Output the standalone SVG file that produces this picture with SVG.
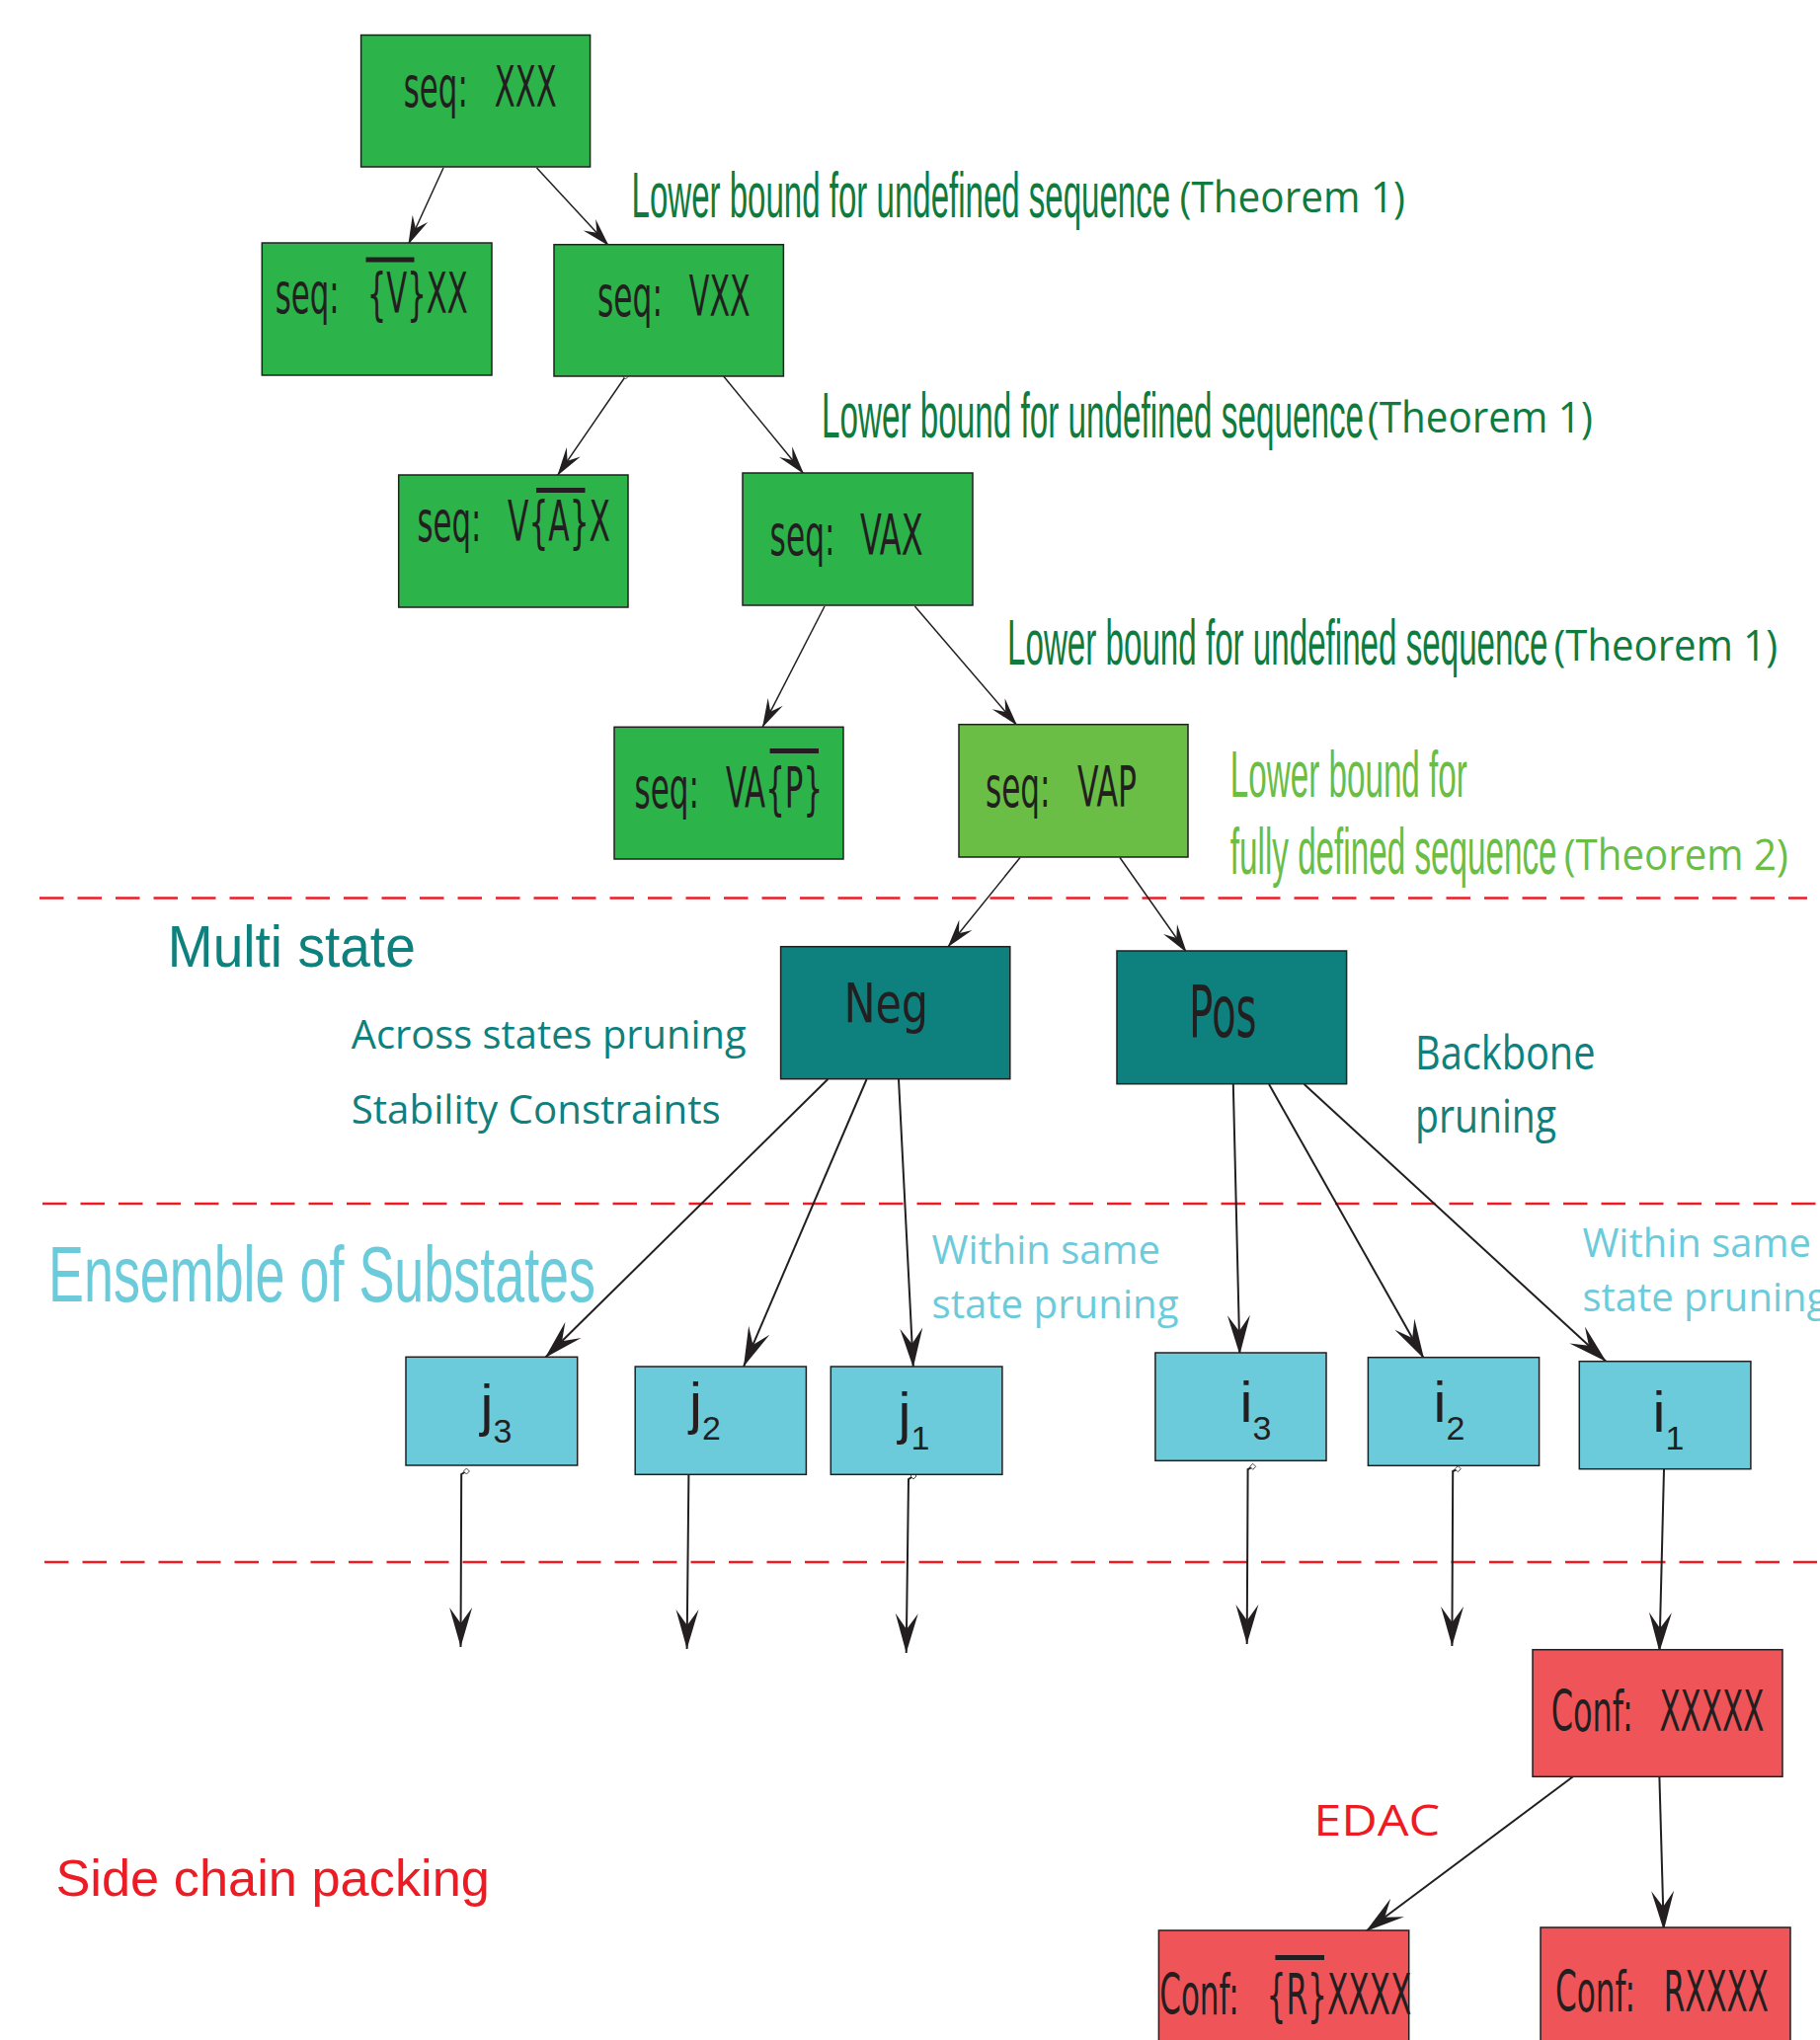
<svg xmlns="http://www.w3.org/2000/svg" width="1843" height="2066" viewBox="0 0 1843 2066">
<style>
.box{stroke:#231f20;stroke-width:1.5}
.g{fill:#2cb34a}.lg{fill:#6abd45}.tl{fill:#0e807d}.cy{fill:#6ccbdb}.rd{fill:#ef5458}
.dv{font-family:"DejaVu Sans","Liberation Sans",sans-serif;fill:#231f20}
.nar{font-family:"Liberation Sans","DejaVu Sans",sans-serif}
.hum{font-family:"Open Sans","Noto Sans",sans-serif}
.tdg{fill:#0f7b3f}.tlg{fill:#6abd45}.ttl{fill:#0e807d}.tcy{fill:#6ccbdb}.trd{fill:#ed1c24}
.ov{fill:#231f20}
.sub{font-family:"Liberation Sans","DejaVu Sans",sans-serif;fill:#231f20}
.c1{fill:none;stroke:#231f20;stroke-width:1.5;marker-end:url(#ahS)}
.c2{fill:none;stroke:#231f20;stroke-width:2;marker-end:url(#ahL)}
.dash{stroke:#ed1c24;stroke-width:2.5;stroke-dasharray:24.5 14;fill:none}
</style>
<defs>
<marker id="ahS" markerUnits="userSpaceOnUse" viewBox="-30 -10 32 20" refX="0" refY="0" markerWidth="32" markerHeight="20" orient="auto">
<path d="M0,0 L-29,-8.5 L-18,0 L-29,8.5 Z" fill="#231f20"/>
</marker>
<marker id="ahL" markerUnits="userSpaceOnUse" viewBox="-42 -13 44 26" refX="0" refY="0" markerWidth="44" markerHeight="26" orient="auto">
<path d="M0,0 L-40,-11.5 L-24,0 L-40,11.5 Z" fill="#231f20"/>
</marker>
<marker id="dm" markerUnits="userSpaceOnUse" viewBox="-4 -4 8 8" refX="0" refY="0" markerWidth="8" markerHeight="8" orient="0">
<path d="M0,-3 L3,0 L0,3 L-3,0 Z" fill="#fff" stroke="#231f20" stroke-width="0.8"/>
</marker>
</defs>
<rect width="1843" height="2066" fill="#fff"/>

<g id="dividers">
<line class="dash" x1="40" y1="909.5" x2="1830" y2="909.5"/>
<line class="dash" x1="43" y1="1219" x2="1840" y2="1219"/>
<line class="dash" x1="45" y1="1582" x2="1840" y2="1582"/>
</g>

<g id="labels">
<text class="nar tdg" transform="translate(639.6 220) scale(1 1.98)" font-size="33.1" textLength="545.5" lengthAdjust="spacingAndGlyphs">Lower bound for undefined sequence</text>
<text class="hum tdg" transform="translate(1194.5 215) scale(1 1.1)" font-size="40.4" textLength="228.5" lengthAdjust="spacingAndGlyphs">(Theorem 1)</text>
<text class="nar tdg" transform="translate(832 443) scale(1 1.98)" font-size="33.1" textLength="549" lengthAdjust="spacingAndGlyphs">Lower bound for undefined sequence</text>
<text class="hum tdg" transform="translate(1384.8 438) scale(1 1.1)" font-size="40.4" textLength="228" lengthAdjust="spacingAndGlyphs">(Theorem 1)</text>
<text class="nar tdg" transform="translate(1020 673.3) scale(1 1.98)" font-size="33.1" textLength="547.5" lengthAdjust="spacingAndGlyphs">Lower bound for undefined sequence</text>
<text class="hum tdg" transform="translate(1573.5 669) scale(1 1.1)" font-size="40.4" textLength="226.5" lengthAdjust="spacingAndGlyphs">(Theorem 1)</text>
<text class="nar tlg" transform="translate(1245.8 806.7) scale(1 1.98)" font-size="33.2" textLength="240" lengthAdjust="spacingAndGlyphs">Lower bound for</text>
<text class="nar tlg" transform="translate(1245.8 885) scale(1 1.98)" font-size="33.2" textLength="330.7" lengthAdjust="spacingAndGlyphs">fully defined sequence</text>
<text class="hum tlg" transform="translate(1583.7 881) scale(1 1.1)" font-size="40.4" textLength="227.3" lengthAdjust="spacingAndGlyphs">(Theorem 2)</text>
<text class="nar ttl" transform="translate(169.8 979.3) scale(1 1.08)" font-size="55" textLength="251" lengthAdjust="spacingAndGlyphs">Multi state</text>
<text class="hum ttl" x="355.7" y="1061.7" font-size="41" textLength="400" lengthAdjust="spacingAndGlyphs">Across states pruning</text>
<text class="hum ttl" x="355.7" y="1138.3" font-size="41" textLength="374" lengthAdjust="spacingAndGlyphs">Stability Constraints</text>
<text class="hum ttl" transform="translate(1433 1083.3) scale(1 1.2)" font-size="40" textLength="182.5" lengthAdjust="spacingAndGlyphs">Backbone</text>
<text class="hum ttl" transform="translate(1433 1146.7) scale(1 1.2)" font-size="40" textLength="143" lengthAdjust="spacingAndGlyphs">pruning</text>
<text class="nar tcy" transform="translate(49 1318.3) scale(1 1.47)" font-size="53.9" textLength="554" lengthAdjust="spacingAndGlyphs">Ensemble of Substates</text>
<text class="hum tcy" x="943.5" y="1280" font-size="40" textLength="231.5" lengthAdjust="spacingAndGlyphs">Within same</text>
<text class="hum tcy" x="943.5" y="1335" font-size="40" textLength="250" lengthAdjust="spacingAndGlyphs">state pruning</text>
<text class="hum tcy" x="1602.4" y="1273.3" font-size="40" textLength="231.6" lengthAdjust="spacingAndGlyphs">Within same</text>
<text class="hum tcy" x="1602.4" y="1328.3" font-size="40">state pruning</text>
<text class="hum trd" x="1330.3" y="1859" font-size="43" textLength="128" lengthAdjust="spacingAndGlyphs">EDAC</text>
<text class="nar trd" x="56.4" y="1920" font-size="52" textLength="439.6" lengthAdjust="spacingAndGlyphs">Side chain packing</text>
</g>

<g id="connectors">
<line class="c1" x1="449" y1="170" x2="413.4" y2="247.7"/>
<line class="c1" x1="543.5" y1="170" x2="616.6" y2="249"/>
<line class="c1" x1="633.5" y1="381" x2="564.4" y2="481.7" style="marker-start:url(#dm)"/>
<line class="c1" x1="732.7" y1="381" x2="814" y2="480"/>
<line class="c1" x1="835" y1="614" x2="772" y2="736.7"/>
<line class="c1" x1="926.4" y1="614" x2="1030" y2="734.7"/>
<line class="c1" x1="1033" y1="868.5" x2="959.7" y2="959.3"/>
<line class="c1" x1="1134" y1="868.5" x2="1201.7" y2="964.7"/>
<line class="c2" x1="838.3" y1="1093" x2="552" y2="1375"/>
<line class="c2" x1="877.6" y1="1093" x2="753" y2="1384"/>
<line class="c2" x1="910" y1="1093" x2="924.8" y2="1385"/>
<line class="c2" x1="1248.8" y1="1098" x2="1255.4" y2="1372"/>
<line class="c2" x1="1285" y1="1098" x2="1442" y2="1376"/>
<line class="c2" x1="1320.6" y1="1098" x2="1626.6" y2="1379"/>
<path class="c2" d="M472.4,1490 L467.2,1493 L466.5,1668" style="marker-start:url(#dm)"/>
<path class="c2" d="M702.5,1490 L697.4,1493 L695.6,1670" style="marker-start:url(#dm)"/>
<path class="c2" d="M925,1495 L920,1498 L917.7,1674" style="marker-start:url(#dm)"/>
<path class="c2" d="M1268.7,1485.3 L1263.6,1488 L1262.7,1665" style="marker-start:url(#dm)"/>
<path class="c2" d="M1476.3,1487.7 L1471.2,1490 L1470.4,1667" style="marker-start:url(#dm)"/>
<line class="c2" x1="1685" y1="1488" x2="1680.4" y2="1673"/>
<line class="c2" x1="1592.9" y1="1799.3" x2="1383" y2="1956"/>
<line class="c2" x1="1680.4" y1="1800" x2="1684.8" y2="1955"/>
</g>

<g id="node-XXX">
<rect class="box g" x="365.6" y="35.5" width="232" height="133.5"/>
<text class="dv" transform="translate(408.8 108) scale(1 1.82)" font-size="30.8" textLength="65" lengthAdjust="spacingAndGlyphs">seq:</text>
<text class="dv" transform="translate(500.7 108) scale(1 1.82)" font-size="30.8" textLength="63" lengthAdjust="spacingAndGlyphs">XXX</text>
</g>
<g id="node-notVXX">
<rect class="box g" x="265.3" y="246" width="232.7" height="134"/>
<text class="dv" transform="translate(278.7 316.7) scale(1 1.82)" font-size="30.8" textLength="65" lengthAdjust="spacingAndGlyphs">seq:</text>
<text class="dv" transform="translate(371.7 316.7) scale(1 1.82)" font-size="30.8" textLength="102" lengthAdjust="spacingAndGlyphs">{V}XX</text>
<rect class="ov" x="370.5" y="260.5" width="49" height="5"/>
</g>
<g id="node-VXX">
<rect class="box g" x="561" y="247.7" width="232.4" height="133.3"/>
<text class="dv" transform="translate(605 320) scale(1 1.82)" font-size="30.8" textLength="66" lengthAdjust="spacingAndGlyphs">seq:</text>
<text class="dv" transform="translate(697.8 320) scale(1 1.82)" font-size="30.8" textLength="62" lengthAdjust="spacingAndGlyphs">VXX</text>
</g>
<g id="node-VnotAX">
<rect class="box g" x="403.7" y="481" width="232.3" height="134"/>
<text class="dv" transform="translate(422.4 548.3) scale(1 1.82)" font-size="30.8" textLength="65" lengthAdjust="spacingAndGlyphs">seq:</text>
<text class="dv" transform="translate(514 548.3) scale(1 1.82)" font-size="30.8" textLength="104" lengthAdjust="spacingAndGlyphs">V{A}X</text>
<rect class="ov" x="543" y="494" width="49.5" height="5"/>
</g>
<g id="node-VAX">
<rect class="box g" x="752" y="479" width="233" height="134"/>
<text class="dv" transform="translate(779.6 561.7) scale(1 1.82)" font-size="30.8" textLength="66" lengthAdjust="spacingAndGlyphs">seq:</text>
<text class="dv" transform="translate(871 561.7) scale(1 1.82)" font-size="30.8" textLength="63.5" lengthAdjust="spacingAndGlyphs">VAX</text>
</g>
<g id="node-VAnotP">
<rect class="box g" x="622" y="736.3" width="232" height="133.7"/>
<text class="dv" transform="translate(642.5 818.3) scale(1 1.82)" font-size="30.8" textLength="65.5" lengthAdjust="spacingAndGlyphs">seq:</text>
<text class="dv" transform="translate(735 818.3) scale(1 1.82)" font-size="30.8" textLength="98" lengthAdjust="spacingAndGlyphs">VA{P}</text>
<rect class="ov" x="779.6" y="758" width="49.4" height="5"/>
</g>
<g id="node-VAP">
<rect class="box lg" x="971" y="733.7" width="232" height="134.3"/>
<text class="dv" transform="translate(998 816.7) scale(1 1.82)" font-size="30.8" textLength="65.6" lengthAdjust="spacingAndGlyphs">seq:</text>
<text class="dv" transform="translate(1091 816.7) scale(1 1.82)" font-size="30.8" textLength="60" lengthAdjust="spacingAndGlyphs">VAP</text>
</g>

<g id="node-Neg">
<rect class="box tl" x="790.6" y="958.7" width="232.2" height="134"/>
<text class="dv" transform="translate(854.4 1035) scale(1 1.28)" font-size="42.8" textLength="85.6" lengthAdjust="spacingAndGlyphs">Neg</text>
</g>
<g id="node-Pos">
<rect class="box tl" x="1131" y="963" width="232.6" height="134.7"/>
<text class="dv" transform="translate(1204 1050) scale(1 1.84)" font-size="39.5" textLength="68.6" lengthAdjust="spacingAndGlyphs">Pos</text>
</g>

<g id="node-j3">
<rect class="box cy" x="411" y="1374.3" width="173.7" height="109.7"/>
<text class="sub" x="486.5" y="1443" font-size="58">j<tspan x="499.5" y="1461" font-size="34">3</tspan></text>
</g>
<g id="node-j2">
<rect class="box cy" x="643.2" y="1384" width="173.2" height="109.3"/>
<text class="sub" x="698" y="1441" font-size="58">j<tspan x="711" y="1458" font-size="34">2</tspan></text>
</g>
<g id="node-j1">
<rect class="box cy" x="841.3" y="1384" width="173.6" height="109.3"/>
<text class="sub" x="909.5" y="1451" font-size="58">j<tspan x="922.5" y="1468" font-size="34">1</tspan></text>
</g>
<g id="node-i3">
<rect class="box cy" x="1169.9" y="1370" width="173.1" height="109.3"/>
<text class="sub" x="1255.5" y="1440" font-size="58">i<tspan x="1268.5" y="1458" font-size="34">3</tspan></text>
</g>
<g id="node-i2">
<rect class="box cy" x="1385.4" y="1374.7" width="173.2" height="109.6"/>
<text class="sub" x="1451.5" y="1440" font-size="58">i<tspan x="1464.5" y="1458" font-size="34">2</tspan></text>
</g>
<g id="node-i1">
<rect class="box cy" x="1599.3" y="1378.7" width="173.6" height="109"/>
<text class="sub" x="1673.5" y="1450" font-size="58">i<tspan x="1686.5" y="1467.5" font-size="34">1</tspan></text>
</g>

<g id="node-ConfXXXXX">
<rect class="box rd" x="1552" y="1670.7" width="253" height="128.6"/>
<text class="dv" transform="translate(1570.7 1752.7) scale(1 1.785)" font-size="31.5" textLength="83" lengthAdjust="spacingAndGlyphs">Conf:</text>
<text class="dv" transform="translate(1680.4 1752.7) scale(1 1.785)" font-size="31.5" textLength="106" lengthAdjust="spacingAndGlyphs">XXXXX</text>
</g>
<g id="node-ConfnotRXXXX">
<rect class="box rd" x="1173.4" y="1955" width="253.3" height="130"/>
<text class="dv" transform="translate(1174.3 2040) scale(1 1.785)" font-size="31.5" textLength="80.4" lengthAdjust="spacingAndGlyphs">Conf:</text>
<text class="dv" transform="translate(1282.6 2040) scale(1 1.785)" font-size="31.5" textLength="146.7" lengthAdjust="spacingAndGlyphs">{R}XXXX</text>
<rect class="ov" x="1291.4" y="1980" width="49.6" height="5"/>
</g>
<g id="node-ConfRXXXX">
<rect class="box rd" x="1560" y="1952" width="253" height="130"/>
<text class="dv" transform="translate(1575 2036.7) scale(1 1.785)" font-size="31.5" textLength="81" lengthAdjust="spacingAndGlyphs">Conf:</text>
<text class="dv" transform="translate(1684.8 2036.7) scale(1 1.785)" font-size="31.5" textLength="106" lengthAdjust="spacingAndGlyphs">RXXXX</text>
</g>
</svg>
